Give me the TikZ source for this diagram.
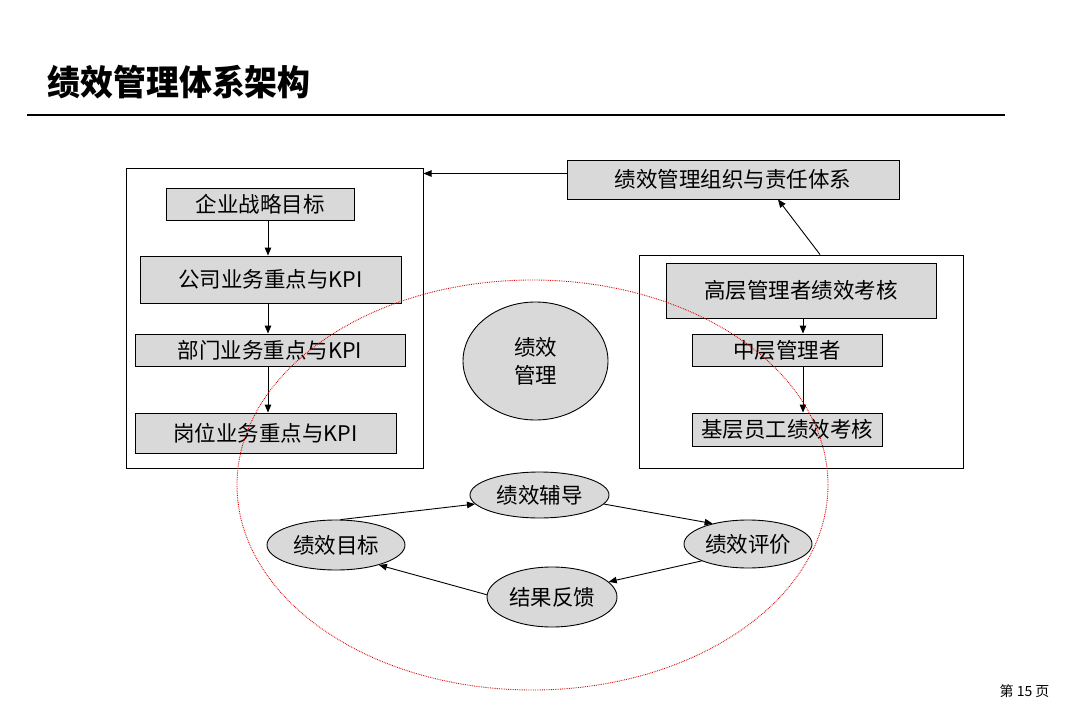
\documentclass[tikz,border=0pt]{standalone}
\usepackage{fontspec}
\setmainfont{Noto Sans CJK SC}
\newfontfamily\biaoti[FakeStretch=0.94]{Noto Sans CJK SC}
\usepackage{tikz}
\usetikzlibrary{arrows.meta,positioning,shapes.geometric}

\begin{document}
\begin{tikzpicture}[
  x=1pt, y=-1pt,
  font=\fontsize{21.5}{28}\selectfont,
  kuang/.style={draw, fill=black!15, inner sep=0pt, line width=0.9pt},
  waikuang/.style={draw, inner sep=0pt, line width=1pt},
  tuoyuan/.style={ellipse, draw, fill=black!15, inner sep=0pt, line width=0.9pt},
  arr/.style={-{Triangle[length=8pt,width=6.5pt]}, line width=0.9pt}
]
\useasboundingbox (0,0) rectangle (1080,712);
\node[anchor=west, font=\biaoti\bfseries\fontsize{35}{40}\selectfont] (title) at (44,82) {绩效管理体系架构};
\draw[line width=2pt] (27,115) -- (1005,115);
\node[anchor=east, font=\fontsize{14}{16}\selectfont] (page) at (1053,691) {第\ 15\ 页};

\node[waikuang, minimum width=297, minimum height=300] (zuo) at (274.5,318) {};
\node[waikuang, minimum width=324, minimum height=213] (you) at (801,361.5) {};

\node[kuang, minimum width=188, minimum height=32] (s1) at (260,204) {企业战略目标};
\node[kuang, minimum width=261, minimum height=47] (s2) at (270.5,279.5) {公司业务重点与KPI};
\node[kuang, minimum width=270, minimum height=32] (s3) at (270,350) {部门业务重点与KPI};
\node[kuang, minimum width=261, minimum height=40] (s4) at (265.5,433) {岗位业务重点与KPI};
\coordinate (zhouL) at (268,0);
\draw[arr] (s1.south -| zhouL) -- (s2.north -| zhouL);
\draw[arr] (s2.south -| zhouL) -- (s3.north -| zhouL);
\draw[arr] (s3.south -| zhouL) -- (s4.north -| zhouL);

\node[kuang, minimum width=332, minimum height=39] (zuzhi) at (733,179.5) {绩效管理组织与责任体系};
\node[kuang, minimum width=270, minimum height=55] (h1) at (801,290.5) {高层管理者绩效考核};
\node[kuang, minimum width=190, minimum height=32] (h2) at (787,350) {中层管理者};
\node[kuang, minimum width=190, minimum height=33] (h3) at (787,429.5) {基层员工绩效考核};
\coordinate (zhouR) at (803,0);
\draw[arr] (h1.south -| zhouR) -- (h2.north -| zhouR);
\draw[arr] (h2.south -| zhouR) -- (h3.north -| zhouR);
\draw[arr] ([yshift=6pt]zuzhi.west) -- ([yshift=6pt]zuzhi.west -| zuo.east);
\draw[arr] ([xshift=19pt]you.north) -- ([xshift=45pt]zuzhi.south);

\node[tuoyuan, minimum width=145, minimum height=118, align=center] (hexin) at (535.5,361) {绩效\\管理};

\node[tuoyuan, minimum width=138, minimum height=50] (mubiao) at (336,545) {绩效目标};
\node[tuoyuan, minimum width=139, minimum height=46] (fudao) at (539.5,495) {绩效辅导};
\node[tuoyuan, minimum width=128, minimum height=48] (pingjia) at (748,544) {绩效评价};
\node[tuoyuan, minimum width=130, minimum height=60] (fankui) at (552,597) {结果反馈};
\draw[arr] (mubiao.80) -- (fudao.188);
\draw[arr] (fudao.-8) -- (pingjia.150);
\draw[arr] (pingjia.200) -- (fankui.15);
\draw[arr] (fankui.178) -- (mubiao.-25);

\node[ellipse, draw=red!85!black, dash pattern=on 0.8pt off 1pt, line width=0.9pt, minimum width=591, minimum height=410] (fanwei) at (532.5,485) {};
\end{tikzpicture}
\end{document}
